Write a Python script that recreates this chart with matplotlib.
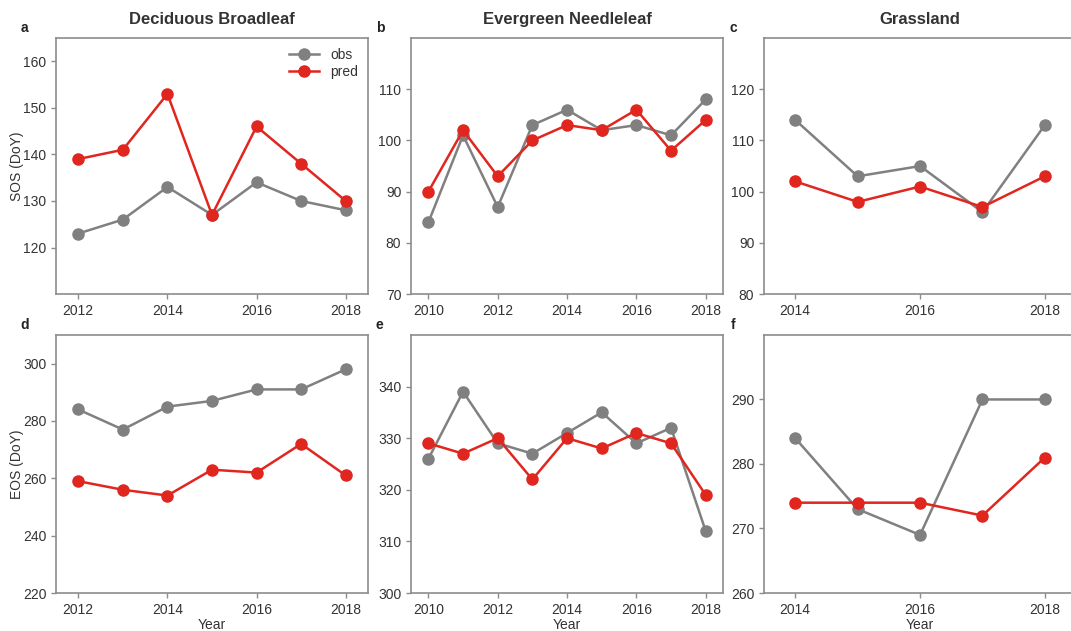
import numpy as np
import matplotlib.pyplot as plt

plt.rcParams['font.family'] = ['Liberation Sans', 'DejaVu Sans']

years_db = [2012, 2013, 2014, 2015, 2016, 2017, 2018]
years_en = [2010, 2011, 2012, 2013, 2014, 2015, 2016, 2017, 2018]
years_gr = [2014, 2015, 2016, 2017, 2018]

sos_obs_db = [123, 126, 133, 127, 134, 130, 128]
sos_pred_db = [139, 141, 153, 127, 146, 138, 130]
sos_obs_en = [84, 101, 87, 103, 106, 102, 103, 101, 108]
sos_pred_en = [90, 102, 93, 100, 103, 102, 106, 98, 104]
sos_obs_gr = [114, 103, 105, 96, 113]
sos_pred_gr = [102, 98, 101, 97, 103]

eos_obs_db = [284, 277, 285, 287, 291, 291, 298]
eos_pred_db = [259, 256, 254, 263, 262, 272, 261]
eos_obs_en = [326, 339, 329, 327, 331, 335, 329, 332, 312]
eos_pred_en = [329, 327, 330, 322, 330, 328, 331, 329, 319]
eos_obs_gr = [284, 273, 269, 290, 290]
eos_pred_gr = [274, 274, 274, 272, 281]

titles = ["Deciduous Broadleaf", "Evergreen Needleleaf", "Grassland"]
letters = ["a", "b", "c", "d", "e", "f"]

OBS = "#808080"
PRED = "#e0261e"
SPINE = "#8c8c8c"
TXT = "#333333"

fig = plt.figure(figsize=(10.71, 6.31), dpi=100)
lefts = [0.0523, 0.3838, 0.7134]
width = 0.2913
rows = [(0.534, 0.4057), (0.0602, 0.409)]

panels = [
    (years_db, sos_obs_db, sos_pred_db, (110, 165), [120, 130, 140, 150, 160], (2011.5, 2018.5)),
    (years_en, sos_obs_en, sos_pred_en, (70, 120), [70, 80, 90, 100, 110], (2009.5, 2018.5)),
    (years_gr, sos_obs_gr, sos_pred_gr, (80, 130), [80, 90, 100, 110, 120], (2013.5, 2018.5)),
    (years_db, eos_obs_db, eos_pred_db, (220, 310), [220, 240, 260, 280, 300], (2011.5, 2018.5)),
    (years_en, eos_obs_en, eos_pred_en, (300, 350), [300, 310, 320, 330, 340], (2009.5, 2018.5)),
    (years_gr, eos_obs_gr, eos_pred_gr, (260, 300), [260, 270, 280, 290], (2013.5, 2018.5)),
]

for i, (x, obs, pred, ylim, yticks, xlim) in enumerate(panels):
    r, c = divmod(i, 3)
    b, h = rows[r]
    ax = fig.add_axes([lefts[c], b, width, h])
    ax.plot(x, obs, "-o", color=OBS, lw=1.8, ms=8, label="obs")
    ax.plot(x, pred, "-o", color=PRED, lw=1.8, ms=8, label="pred")
    ax.set_ylim(*ylim)
    ax.set_xlim(*xlim)
    ax.set_yticks(yticks)
    ax.set_xticks([t for t in range(2010, 2019, 2) if xlim[0] < t < xlim[1]])
    for s in ax.spines.values():
        s.set_color(SPINE)
        s.set_linewidth(1.2)
    ax.tick_params(colors=SPINE, labelcolor=TXT, labelsize=10, length=3.5, width=1.0)
    ax.text(-0.1, 1.01, letters[i], transform=ax.transAxes, fontsize=10,
            fontweight="bold", color="#222222", ha="center", va="bottom")
    if r == 0:
        ax.set_title(titles[c], fontsize=12, fontweight="bold", color=TXT, pad=10)
    else:
        ax.set_xlabel("Year", fontsize=10, color=TXT, labelpad=1)
    if c == 0:
        ax.set_ylabel("SOS (DoY)" if r == 0 else "EOS (DoY)", fontsize=10, color=TXT, labelpad=-1)
    if i == 0:
        ax.legend(loc="upper right", frameon=False, fontsize=10, labelcolor=TXT,
                  handlelength=2.2, borderaxespad=0.3, labelspacing=0.2)

fig.savefig("out.png", dpi=100)
